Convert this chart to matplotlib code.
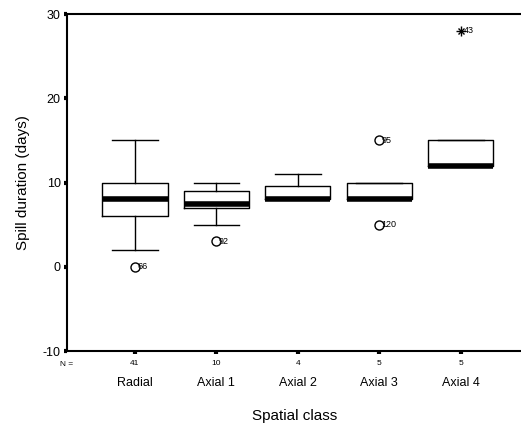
import matplotlib
matplotlib.use("Agg")
import matplotlib.pyplot as plt

plt.rcParams['font.family'] = ['Liberation Sans', 'DejaVu Sans']
plt.rcParams['axes.unicode_minus'] = False

# Summary statistics per spatial class (days)
classes = ['Radial', 'Axial 1', 'Axial 2', 'Axial 3', 'Axial 4']
counts = [41, 10, 4, 5, 5]
q1 = [6, 7, 8, 8, 12]
medians = [8, 7.5, 8, 8, 12]
q3 = [10, 9, 9.6, 10, 15]
whisk_lo = [2, 5, 8, 8, 12]
whisk_hi = [15, 10, 11, 10, 15]

# Outliers (circles) and extremes (stars), with case numbers
outlier_class = [0, 1, 3, 3]
outlier_value = [0, 3, 15, 5]
outlier_case = ['66', '92', '95', '120']
extreme_class = [4]
extreme_value = [28]
extreme_case = ['43']

fig = plt.figure(figsize=(5.21, 4.32), dpi=100)
ax = fig.add_axes([0.1286, 0.1875, 0.8714, 0.78])

stats = []
for i, name in enumerate(classes):
    stats.append({
        'label': name, 'q1': q1[i], 'med': medians[i], 'q3': q3[i],
        'whislo': whisk_lo[i], 'whishi': whisk_hi[i], 'fliers': [],
    })

positions = list(range(1, len(classes) + 1))
ax.bxp(stats, positions=positions, widths=0.8, capwidths=0.56,
       showfliers=False,
       boxprops=dict(color='black', linewidth=1.0),
       medianprops=dict(color='black', linewidth=4, solid_capstyle='butt'),
       whiskerprops=dict(color='black', linewidth=1.0),
       capprops=dict(color='black', linewidth=1.0))

ox = [positions[c] for c in outlier_class]
ax.plot(ox, outlier_value, 'o', ms=6.5, mfc='white', mec='black', mew=1.0)
for x, y, t in zip(ox, outlier_value, outlier_case):
    ax.text(x + 0.03, y, t, fontsize=6.5, va='center', ha='left')

ex = [positions[c] for c in extreme_class]
ax.plot(ex, extreme_value, marker='+', ms=7, color='black', mew=1.0, ls='none')
ax.plot(ex, extreme_value, marker='x', ms=4.5, color='black', mew=1.0, ls='none')
for x, y, t in zip(ex, extreme_value, extreme_case):
    ax.text(x + 0.04, y, t, fontsize=6.5, va='center', ha='left')

ax.set_xlim(0.166, 5.74)
ax.set_ylim(-10, 30)
ax.set_yticks([-10, 0, 10, 20, 30])
ax.set_xticks(positions)
ax.set_xticklabels([str(n) for n in counts], fontsize=6)
ax.tick_params(axis='both', length=2.5, width=3, direction='out')
ax.tick_params(axis='y', labelsize=9, pad=2)
ax.tick_params(axis='x', pad=4)

ax.spines['right'].set_visible(False)
for s in ['left', 'bottom', 'top']:
    ax.spines[s].set_linewidth(1.5)

ax.text(0.0, -0.03, 'N =', transform=ax.transAxes, fontsize=6,
        ha='center', va='top')
for x, name in zip(positions, classes):
    ax.text(x, -0.077, name, transform=ax.get_xaxis_transform(),
            fontsize=9, ha='center', va='top')

ax.set_ylabel('Spill duration (days)', fontsize=11, labelpad=9)
fig.text(0.566, 0.02, 'Spatial class', fontsize=11, ha='center', va='bottom')

fig.savefig('out.png', dpi=100)
